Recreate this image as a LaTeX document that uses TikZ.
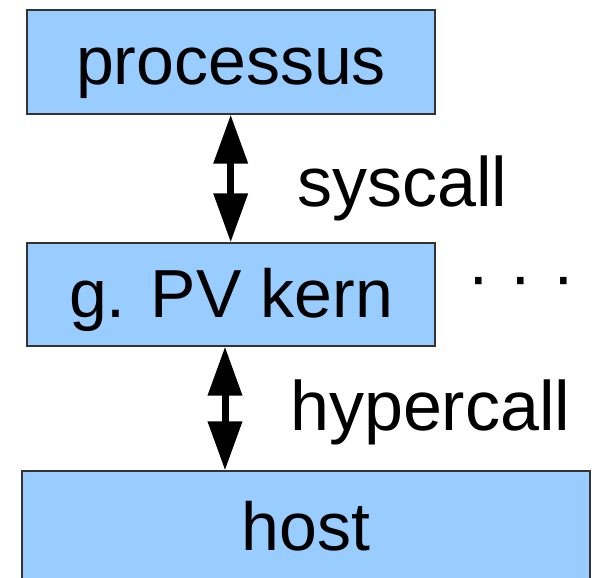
\documentclass[tikz,border=0pt]{standalone}
\usepackage{fontspec}
\setmainfont{Liberation Sans}
\usetikzlibrary{arrows.meta}
\definecolor{boxblue}{RGB}{153,204,255}
\definecolor{boxline}{RGB}{51,51,51}
\begin{document}
\begin{tikzpicture}[x=1pt,y=-1pt,
  layer/.style={draw=boxline, line width=1.3pt, fill=boxblue, inner sep=0pt,
    text height=46pt, text depth=0pt, font=\fontsize{68}{80}\selectfont},
  callarrow/.style={line width=7pt,
    {Triangle[width=33pt,length=49pt]}-{Triangle[width=33pt,length=49pt]}},
  calltext/.style={inner sep=0pt, anchor=base west, font=\fontsize{70}{84}\selectfont}]
  \useasboundingbox (0,0) rectangle (598,578);
  \begin{scope}
    \clip (0,0) rectangle (598,578);
    % protection layers
    \node[layer, minimum width=408pt, minimum height=104pt] (proc) at (231,62) {processus};
    \node[layer, minimum width=408pt, minimum height=103pt] (kern) at (231,294.5) {g. PV kern};
    \node[layer, minimum width=568pt, minimum height=113pt] (host) at (306,527.5) {host};
  \end{scope}
  % calls between layers
  \draw[callarrow] ([xshift=-0.3pt]proc.south) -- ([xshift=-0.3pt]kern.north);
  \draw[callarrow] ([xshift=-6pt]kern.south) -- ([xshift=-81pt]host.north);
  \node[calltext] (sys) at (297,206) {syscall};
  \node[calltext] (hyp) at (290,430) {hypercall};
  \node[calltext, font=\fontsize{68}{80}\selectfont] (more) at (467,299.5) {·\hspace{20pt}·\hspace{20pt}·};
\end{tikzpicture}
\end{document}
